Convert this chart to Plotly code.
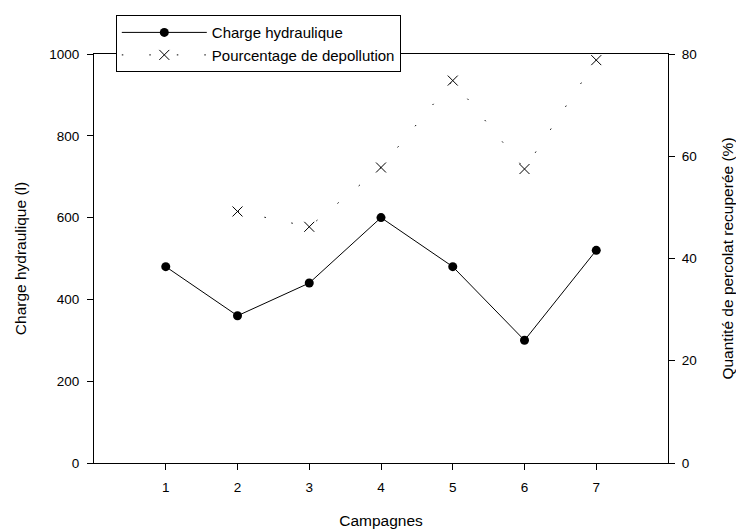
import plotly.graph_objects as go

campagnes = [1, 2, 3, 4, 5, 6, 7]
charge = [480, 360, 440, 600, 480, 300, 520]
camp_pct = [2, 3, 4, 5, 6, 7]
depollution = [49.2, 46.2, 57.8, 74.8, 57.5, 78.8]
x_ticks = [1, 2, 3, 4, 5, 6, 7]
y1_ticks = [0, 200, 400, 600, 800, 1000]
y2_ticks = [0, 20, 40, 60, 80]

FONT = "Arial, Liberation Sans, sans-serif"
TICKF = dict(family=FONT, size=13.5, color="black")
TITLEF = dict(family=FONT, size=15.5, color="black")

fig = go.Figure()
fig.add_trace(go.Scatter(
    x=campagnes, y=charge, name="Charge hydraulique",
    mode="lines+markers",
    line=dict(color="black", width=1),
    marker=dict(symbol="circle", size=9, color="black"),
))
fig.add_trace(go.Scatter(
    x=camp_pct, y=depollution, name="Pourcentage de depollution",
    mode="lines+markers", yaxis="y2",
    line=dict(color="black", width=1, dash="1.5px,26px"),
    marker=dict(symbol="x-thin", size=10, color="black",
                line=dict(color="black", width=1)),
))

axis_common = dict(
    showline=True, linecolor="black", linewidth=1,
    ticks="outside", ticklen=6, tickcolor="black", tickwidth=1,
    showgrid=False, zeroline=False, automargin=False,
    tickfont=TICKF,
)

fig.update_layout(
    width=736, height=532,
    margin=dict(l=94, r=68, t=54, b=69),
    paper_bgcolor="white", plot_bgcolor="white",
    font=dict(family=FONT, size=13, color="black"),
    xaxis=dict(range=[0, 8], tickvals=x_ticks, mirror=True, ticklabelstandoff=6,
               title=dict(text="Campagnes", font=TITLEF, standoff=20),
               **axis_common),
    yaxis=dict(range=[0, 1000], tickvals=y1_ticks, ticklabelstandoff=5,
               title=dict(text="Charge hydraulique (l)", font=TITLEF, standoff=18),
               **axis_common),
    yaxis2=dict(range=[0, 80], tickvals=y2_ticks, overlaying="y", side="right",
                ticklabelstandoff=4,
                title=dict(text="Quantité de percolat recuperée (%)", font=TITLEF, standoff=28),
                **axis_common),
    showlegend=True,
    legend=dict(x=0.038, y=1.095, xanchor="left", yanchor="top",
                bgcolor="white", bordercolor="black", borderwidth=1,
                font=dict(family=FONT, size=15, color="black"),
                itemwidth=85, tracegroupgap=0),
)

fig.write_html("out.html")
